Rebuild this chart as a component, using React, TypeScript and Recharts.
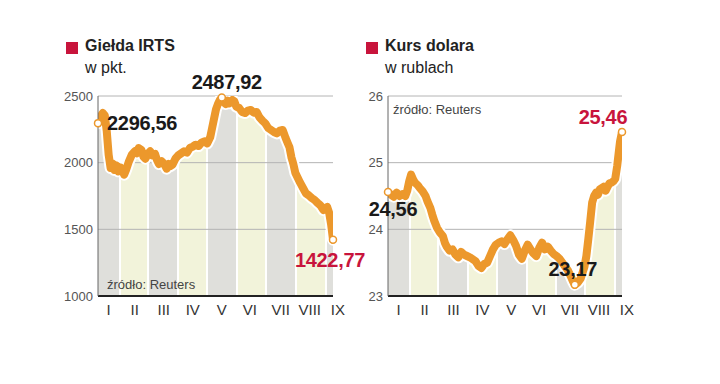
import React from 'react';
import { ComposedChart, Area, Line, XAxis, YAxis, ReferenceLine, ReferenceDot } from 'recharts';

// 2008, day of year
const monthStarts = [1, 32, 61, 92, 122, 153, 183, 214, 245, 275];
const monthLabels = ['I', 'II', 'III', 'IV', 'V', 'VI', 'VII', 'VIII', 'IX'];
const monthTicks = [20, 47, 77, 107, 137, 166, 198, 228, 257];

const rtsDays = [9, 11, 14, 16, 18, 20, 22, 24, 26, 28, 30, 32, 34, 36, 38, 41, 44, 47, 49, 51, 54, 56, 58, 61, 63, 65, 68, 70, 72, 75, 78, 80, 82, 84, 86, 89, 92, 95, 98, 101, 104, 107, 110, 113, 116, 119, 122, 125, 127, 129, 131, 133, 135, 137, 139, 141, 143, 145, 148, 150, 152, 155, 158, 161, 164, 167, 170, 173, 176, 179, 182, 185, 188, 191, 194, 197, 200, 203, 205, 207, 209, 211, 213, 215, 218, 221, 224, 227, 230, 233, 236, 239, 242, 244, 246, 248, 250, 252];
const rtsValues = [2296.56, 2340, 2372, 2355, 2240, 2060, 1960, 1995, 1945, 1980, 1935, 1965, 1950, 1910, 1945, 2010, 2060, 2085, 2070, 2110, 2095, 2045, 2030, 2070, 2085, 2055, 2065, 2020, 1990, 2010, 1985, 1955, 1990, 1975, 1985, 2030, 2055, 2070, 2085, 2075, 2110, 2120, 2135, 2125, 2150, 2160, 2145, 2190, 2260, 2330, 2400, 2440, 2470, 2487.92, 2455, 2440, 2465, 2445, 2470, 2460, 2420, 2410, 2380, 2372, 2390, 2395, 2375, 2380, 2340, 2315, 2295, 2260, 2245, 2230, 2220, 2240, 2245, 2185, 2150, 2115, 2040, 1990, 1925, 1895, 1850, 1810, 1770, 1755, 1735, 1720, 1698, 1680, 1645, 1660, 1668, 1625, 1540, 1422.77];

const usdDays = [9, 12, 15, 18, 21, 24, 27, 29, 31, 33, 35, 37, 40, 42, 45, 48, 50, 53, 55, 57, 60, 63, 66, 68, 70, 73, 76, 79, 82, 85, 88, 91, 94, 97, 100, 103, 106, 109, 112, 115, 118, 121, 124, 127, 130, 133, 136, 139, 142, 145, 148, 151, 154, 157, 160, 163, 166, 169, 172, 175, 178, 181, 184, 187, 190, 193, 196, 199, 201, 203, 206, 209, 211, 213, 215, 217, 219, 221, 223, 225, 227, 229, 231, 233, 235, 237, 239, 241, 243, 245, 247, 249, 250, 252];
const usdValues = [24.56, 24.52, 24.49, 24.55, 24.5, 24.53, 24.5, 24.58, 24.72, 24.82, 24.75, 24.7, 24.66, 24.62, 24.57, 24.5, 24.42, 24.32, 24.22, 24.13, 24.02, 23.95, 23.9, 23.8, 23.74, 23.68, 23.7, 23.62, 23.58, 23.66, 23.62, 23.6, 23.58, 23.55, 23.52, 23.45, 23.42, 23.48, 23.5, 23.6, 23.7, 23.77, 23.8, 23.82, 23.78, 23.85, 23.91, 23.84, 23.75, 23.62, 23.56, 23.68, 23.77, 23.7, 23.64, 23.6, 23.72, 23.8, 23.7, 23.74, 23.68, 23.63, 23.6, 23.56, 23.5, 23.44, 23.38, 23.29, 23.22, 23.17, 23.2, 23.26, 23.35, 23.44, 23.6, 23.85, 24.12, 24.4, 24.5, 24.55, 24.52, 24.6, 24.62, 24.64, 24.58, 24.64, 24.69, 24.7, 24.72, 24.76, 24.95, 25.2, 25.32, 25.46];

const rtsTicks = [1000, 1500, 2000, 2500];
const usdTicks = [23, 24, 25, 26];

const FONT = '"Liberation Sans", Arial, sans-serif';
const ORANGE = '#ec982c';
const RED = '#c8143c';
const GREY = '#dfdfdb';
const YELLOW = '#f2f3da';
const GAP = 1;

function bandStops(first: number, last: number) {
  const span = last - first;
  const segs: { a: number; b: number; c: string }[] = [];
  for (let i = 0; i < monthStarts.length - 1; i++) {
    const s = Math.max(monthStarts[i], first);
    const e = Math.min(monthStarts[i + 1], last);
    if (e <= s) continue;
    segs.push({
      a: s > first ? (s - first + GAP) / span : 0,
      b: e < last ? (e - first - GAP) / span : 1,
      c: i % 2 === 0 ? GREY : YELLOW,
    });
  }
  const stops: { o: number; c: string }[] = [];
  segs.forEach((sg, i) => {
    if (i > 0) stops.push({ o: sg.a, c: '#ffffff' });
    stops.push({ o: sg.a, c: sg.c });
    stops.push({ o: sg.b, c: sg.c });
    if (i < segs.length - 1) stops.push({ o: sg.b, c: '#ffffff' });
  });
  return stops;
}

function DotLabel(props: any) {
  const { viewBox, text, dx, dy, color, anchor } = props;
  const cx = viewBox.x + viewBox.width / 2;
  const cy = viewBox.y + viewBox.height / 2;
  return (
    <text x={cx + dx} y={cy + dy} textAnchor={anchor || 'middle'} dominantBaseline="central"
      fill={color} fontSize={20} fontWeight="bold" fontFamily={FONT} letterSpacing={-0.3}>
      {text}
    </text>
  );
}

function MonthTick(props: any) {
  const { x, y, payload } = props;
  const i = monthTicks.indexOf(payload.value);
  return (
    <text x={x} y={y + 11} textAnchor="middle" dominantBaseline="central" fill="#333" fontSize={15} fontFamily={FONT}>
      {monthLabels[i]}
    </text>
  );
}

function Title({ left, title, unit }: { left: number; title: string; unit: string }) {
  return (
    <>
      <div style={{ position: 'absolute', left, top: 42, width: 12, height: 12, background: RED }} />
      <div style={{ position: 'absolute', left: left + 19, top: 36, fontSize: 16, fontWeight: 'bold', color: '#222', lineHeight: '20px', whiteSpace: 'nowrap' }}>{title}</div>
      <div style={{ position: 'absolute', left: left + 19, top: 58, fontSize: 16, color: '#222', lineHeight: '20px', whiteSpace: 'nowrap' }}>{unit}</div>
    </>
  );
}

interface PanelProps {
  id: string;
  width: number;
  days: number[];
  values: number[];
  ticks: number[];
  yWidth: number;
  margin: { top: number; right: number; bottom: number; left: number };
  dots: { day: number; value: number; text: string; dx: number; dy: number; color: string; anchor?: string }[];
}

function Panel({ id, width, days, values, ticks, yWidth, margin, dots }: PanelProps) {
  const data = days.map((d, i) => ({ day: d, value: values[i] }));
  const first = days[0];
  const last = days[days.length - 1];
  const stops = bandStops(first, last);
  return (
    <ComposedChart width={width} height={384} data={data} margin={margin} style={{ overflow: 'visible' }}>
      <defs>
        <linearGradient id={id} x1="0" y1="0" x2="1" y2="0">
          {stops.map((s, i) => (
            <stop key={i} offset={s.o} stopColor={s.c} />
          ))}
        </linearGradient>
      </defs>
      <XAxis dataKey="day" type="number" domain={[first, last]} ticks={monthTicks} interval={0}
        tick={<MonthTick />} tickLine={false} tickSize={0} axisLine={{ stroke: '#222', strokeWidth: 2 }} allowDataOverflow />
      <YAxis type="number" domain={[ticks[0], ticks[ticks.length - 1]]} ticks={ticks} width={yWidth}
        tickLine={false} tickSize={0} tickMargin={5} axisLine={{ stroke: '#666', strokeWidth: 1 }}
        tick={{ fill: '#555', fontSize: 13, fontFamily: FONT }} allowDataOverflow />
      <Area dataKey="value" type="linear" baseValue="dataMin" fill={`url(#${id})`} fillOpacity={1} stroke="none" isAnimationActive={false} />
      {ticks.slice(1).map((t) => (
        <ReferenceLine key={t} y={t} stroke="#b4b4b4" strokeWidth={1} />
      ))}
      <Line dataKey="value" type="linear" stroke="#ffffff" strokeWidth={12} dot={false} activeDot={false}
        strokeLinejoin="round" strokeLinecap="round" isAnimationActive={false} />
      <Line dataKey="value" type="linear" stroke={ORANGE} strokeWidth={8} dot={false} activeDot={false}
        strokeLinejoin="round" strokeLinecap="round" isAnimationActive={false} />
      {dots.map((d) => (
        <ReferenceDot key={d.text} x={d.day} y={d.value} r={3.5} fill="#ffffff" stroke={ORANGE} strokeWidth={1.5}
          label={<DotLabel text={d.text} dx={d.dx} dy={d.dy} color={d.color} anchor={d.anchor} />} />
      ))}
    </ComposedChart>
  );
}

export default function App() {
  return (
    <div style={{ position: 'absolute', left: 0, top: 0, width: 720, height: 384, background: '#fff', fontFamily: FONT, overflow: 'hidden' }}>
      <Title left={66} title="Giełda IRTS" unit="w pkt." />
      <Title left={366} title="Kurs dolara" unit="w rublach" />
      <div style={{ position: 'absolute', left: 0, top: 0 }}>
        <Panel id="bandsL" width={380} days={rtsDays} values={rtsValues} ticks={rtsTicks} yWidth={60}
          margin={{ top: 96, right: 47, bottom: 58, left: 38 }}
          dots={[
            { day: 9, value: 2296.56, text: '2296,56', dx: 9, dy: 0, color: '#1a1a1a', anchor: 'start' },
            { day: 137, value: 2487.92, text: '2487,92', dx: 5, dy: -16, color: '#1a1a1a' },
            { day: 252, value: 1422.77, text: '1422,77', dx: -3, dy: 20, color: RED },
          ]} />
      </div>
      <div style={{ position: 'absolute', left: 360, top: 0 }}>
        <Panel id="bandsR" width={360} days={usdDays} values={usdValues} ticks={usdTicks} yWidth={25}
          margin={{ top: 96, right: 98, bottom: 58, left: 3 }}
          dots={[
            { day: 9, value: 24.56, text: '24,56', dx: 5, dy: 17, color: '#1a1a1a' },
            { day: 203, value: 23.17, text: '23,17', dx: -2, dy: -16, color: '#1a1a1a' },
            { day: 252, value: 25.46, text: '25,46', dx: -19, dy: -15, color: RED },
          ]} />
      </div>
      <div style={{ position: 'absolute', left: 107, top: 277, fontSize: 13, color: '#444', whiteSpace: 'nowrap' }}>źródło: Reuters</div>
      <div style={{ position: 'absolute', left: 393, top: 102, fontSize: 13, color: '#444', whiteSpace: 'nowrap' }}>źródło: Reuters</div>
    </div>
  );
}
